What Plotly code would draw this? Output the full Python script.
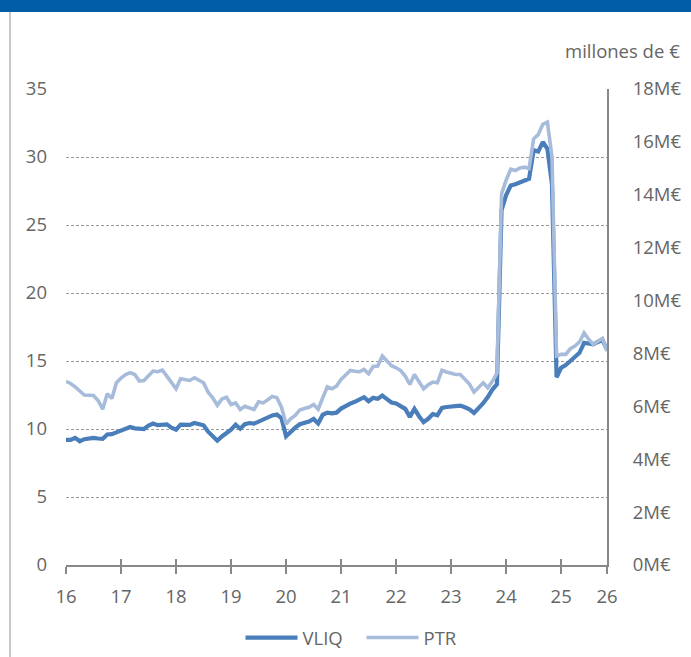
import plotly.graph_objects as go

# ---- data (monthly, Jan 2016 .. Nov 2025) ----
start_year = 16
vliq = [9.2, 9.2, 9.35, 9.1, 9.25, 9.3, 9.35, 9.3, 9.28, 9.6, 9.62, 9.75,
        9.9, 10.05, 10.15, 10.05, 10.02, 10.0, 10.25, 10.4, 10.28, 10.28, 10.34, 10.1,
        9.95, 10.32, 10.28, 10.3, 10.44, 10.35, 10.27, 9.8, 9.5, 9.14, 9.45, 9.7,
        9.95, 10.32, 10.02, 10.35, 10.44, 10.39, 10.55, 10.68, 10.81, 11.0, 11.06, 10.8,
        9.46, 9.8, 10.1, 10.35, 10.45, 10.55, 10.74, 10.4, 11.05, 11.2, 11.15, 11.2,
        11.5, 11.7, 11.87, 12.0, 12.15, 12.34, 12.04, 12.29, 12.22, 12.46, 12.2, 11.95,
        11.88, 11.7, 11.48, 10.89, 11.48, 10.94, 10.5, 10.75, 11.1, 11.01, 11.55, 11.62,
        11.63, 11.65, 11.72, 11.6, 11.45, 11.18, 11.5, 11.9, 12.35, 12.9, 13.3, 26.1,
        27.2, 27.9, 28.0, 28.15, 28.3, 28.4, 30.5, 30.4, 31.1, 30.6, 28.0, 13.8,
        14.5, 14.7, 15.0, 15.3, 15.6, 16.34, 16.3, 16.22, 16.4, 16.54, 15.85]
ptr = [13.5, 13.35, 13.1, 12.8, 12.5, 12.48, 12.46, 12.1, 11.45, 12.6, 12.24, 13.4,
       13.75, 14.0, 14.14, 14.01, 13.52, 13.57, 13.9, 14.26, 14.21, 14.33, 13.89, 13.4,
       12.96, 13.69, 13.6, 13.57, 13.77, 13.6, 13.4, 12.7, 12.3, 11.75, 12.2, 12.34,
       11.8, 11.92, 11.43, 11.67, 11.55, 11.43, 12.0, 11.92, 12.15, 12.4, 12.3, 11.6,
       10.37, 10.75, 11.0, 11.4, 11.5, 11.6, 11.8, 11.45, 12.3, 13.1, 12.96, 13.15,
       13.65, 14.0, 14.31, 14.25, 14.21, 14.38, 14.06, 14.6, 14.63, 15.37, 15.0, 14.65,
       14.5, 14.3, 13.89, 13.28, 14.01, 13.52, 12.96, 13.25, 13.45, 13.4, 14.31, 14.19,
       14.1, 14.01, 14.01, 13.7, 13.3, 12.71, 13.05, 13.4, 13.03, 13.5, 14.1, 27.3,
       28.3, 29.1, 29.0, 29.2, 29.25, 29.15, 31.34, 31.65, 32.4, 32.56, 30.0, 15.37,
       15.49, 15.49, 15.9, 16.1, 16.4, 17.07, 16.6, 16.22, 16.45, 16.66, 15.73]
months = [start_year + i / 12 for i in range(len(vliq))]
x_tick_labels = ["16", "17", "18", "19", "20", "21", "22", "23", "24", "25", "26"]
x_tick_vals = [16, 17, 18, 19, 20, 21, 22, 23, 24, 25, months[-1]]
left_ticks = [0, 5, 10, 15, 20, 25, 30, 35]
right_ticks = [0, 2, 4, 6, 8, 10, 12, 14, 16, 18]
right_labels = [f"{v}M€" for v in right_ticks]

FONT = "Open Sans"
FS = 18.5
TXT = "#666666"
W, H = 691, 657
L, R, T, B = 66, 84, 89, 92
pw, ph = W - L - R, H - T - B

fig = go.Figure()
fig.add_trace(go.Scatter(x=months, y=vliq, name="VLIQ", mode="lines",
                         line=dict(color="#4A7EBB", width=4.2)))
fig.add_trace(go.Scatter(x=months, y=ptr, name="PTR", mode="lines",
                         line=dict(color="#A7BBDA", width=3.6)))
# invisible trace for right axis
fig.add_trace(go.Scatter(x=[months[0]], y=[0], yaxis="y2", showlegend=False,
                         mode="markers", marker=dict(opacity=0), hoverinfo="skip"))
# overlay x axis for "cross" ticks
fig.add_trace(go.Scatter(x=[months[0]], y=[0], xaxis="x2", showlegend=False,
                         mode="markers", marker=dict(opacity=0), hoverinfo="skip"))

fig.update_layout(
    width=W, height=H,
    margin=dict(l=L, r=R, t=T, b=B, autoexpand=False),
    paper_bgcolor="white", plot_bgcolor="white",
    font=dict(family=FONT, size=FS, color=TXT),
    showlegend=True,
    legend=dict(orientation="h", x=0.5 + 25 / pw, xanchor="center", y=-(638 - 565) / ph,
                yanchor="middle", font=dict(size=FS, color=TXT),
                itemwidth=52, entrywidth=54, bgcolor="rgba(0,0,0,0)"),
    xaxis=dict(range=[16, months[-1]], tickvals=x_tick_vals, ticktext=x_tick_labels,
               showgrid=False, zeroline=False, showline=True, linecolor="#888888",
               linewidth=2, ticks="outside", ticklen=7, tickwidth=2, tickcolor="#888888",
               tickfont=dict(size=FS, color=TXT), ticklabelstandoff=7),
    xaxis2=dict(range=[16, months[-1]], tickvals=x_tick_vals, overlaying="x",
                anchor="y", side="bottom", showticklabels=False, showgrid=False,
                zeroline=False, ticks="inside", ticklen=6, tickwidth=2,
                tickcolor="#888888", showline=False),
    yaxis=dict(range=[0, 35], tickvals=left_ticks,
               showgrid=True, gridcolor="#9a9a9a", gridwidth=1, griddash="3px,2px",
               zeroline=False, showline=False, ticks="",
               tickfont=dict(size=FS, color=TXT), ticklabelstandoff=18),
    yaxis2=dict(range=[0, 18], tickvals=right_ticks, ticktext=right_labels,
                overlaying="y", side="right", showgrid=False, zeroline=False,
                showline=True, linecolor="#888888", linewidth=2,
                tickfont=dict(size=FS, color=TXT), ticklabelstandoff=20),
    shapes=[
        dict(type="rect", xref="paper", yref="paper",
             x0=-L / pw, x1=1 + R / pw, y0=1 + (T - 12) / ph, y1=1 + T / ph,
             fillcolor="#005EA8", line=dict(width=0), layer="above"),
        dict(type="line", xref="paper", yref="paper",
             x0=(10 - L) / pw, x1=(10 - L) / pw, y0=-B / ph, y1=1 + (T - 12) / ph,
             line=dict(color="#C8C8C8", width=2)),
    ],
    annotations=[
        dict(text="millones de €", xref="paper", yref="paper",
             x=1 + (682 - 607) / pw, y=1 + (89 - 50) / ph, xanchor="right",
             yanchor="middle", showarrow=False, font=dict(size=FS, color=TXT)),
    ],
)

fig.write_html("out.html", config={"displayModeBar": False},
               post_script="document.body.style.margin='0';document.body.style.padding='0';")
